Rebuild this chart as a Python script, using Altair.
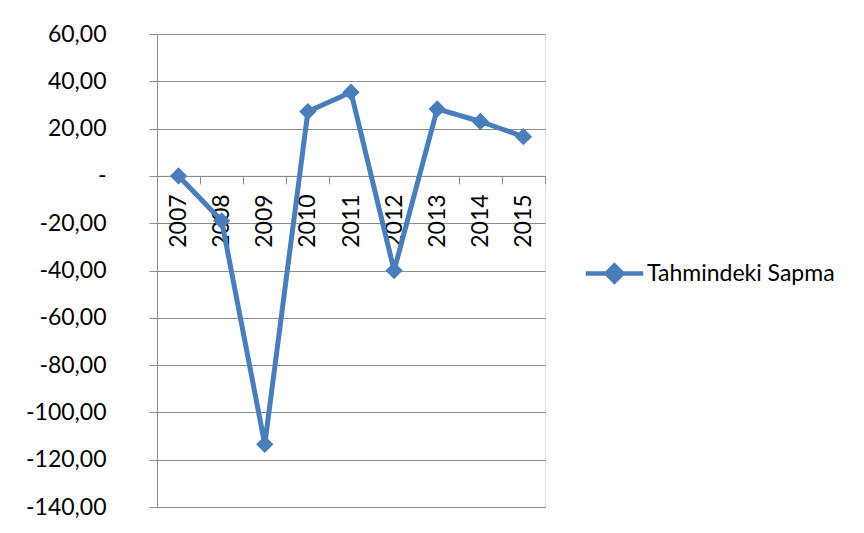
import altair as alt
import pandas as pd

years = ["2007", "2008", "2009", "2010", "2011", "2012", "2013", "2014", "2015"]
values = [0.0, -19.0, -113.5, 27.2, 35.4, -40.0, 28.3, 23.0, 16.6]
series_name = "Tahmindeki Sapma"
y_ticks = [-140, -120, -100, -80, -60, -40, -20, 0, 20, 40, 60]

df = pd.DataFrame({"year": years, "value": values, "series": [series_name] * len(years)})

BLUE = "#4A7EBB"
GRID = "#8C8C8C"
FONT = "Lato"
FS = 23
W, H = 388, 473
y_min, y_max = -140, 60
zero_from_bottom = H * (0 - y_min) / (y_max - y_min)

x_enc = alt.X(
    "year:O",
    sort=years,
    scale=alt.Scale(type="band", paddingInner=0, paddingOuter=0),
    axis=alt.Axis(
        title=None,
        labelAngle=-90,
        labelAlign="right",
        labelBaseline="middle",
        labelPadding=10,
        tickSize=8,
        tickBand="extent",
        offset=-zero_from_bottom,
        domainColor=GRID,
        tickColor=GRID,
        labelFont=FONT,
        labelFontSize=FS,
        labelColor="#000000",
        grid=False,
    ),
)

y_enc = alt.Y(
    "value:Q",
    scale=alt.Scale(domain=[y_min, y_max], nice=False, zero=False),
    axis=alt.Axis(
        title=None,
        values=y_ticks,
        labelExpr="datum.value == 0 ? '-' : replace(replace(format(datum.value, '.2f'), '.', ','), '\u2212', '-')",
        tickSize=8,
        labelPadding=43,
        domainColor=GRID,
        tickColor=GRID,
        gridColor=GRID,
        gridWidth=1,
        labelFont=FONT,
        labelFontSize=FS,
        labelColor="#000000",
    ),
)

color_enc = alt.Color(
    "series:N",
    scale=alt.Scale(range=[BLUE]),
    legend=alt.Legend(
        title=None,
        orient="none",
        legendX=446,
        legendY=228,
        padding=0,
        symbolType="M-3.6,0L3.6,0M0,-1L1,0L0,1L-1,0Z",
        symbolSize=256,
        symbolStrokeWidth=4.5,
        symbolStrokeColor=BLUE,
        symbolFillColor=BLUE,
        labelOffset=21,
        labelLimit=400,
        labelFont=FONT,
        labelFontSize=FS,
        labelColor="#000000",
    ),
)

base = alt.Chart(df).encode(x=x_enc, y=y_enc, color=color_enc)
line = base.mark_line(strokeWidth=5, strokeJoin="round")
pts = base.mark_point(shape="diamond", filled=True, size=300, opacity=1)

chart = (
    alt.layer(line, pts)
    .properties(
        width=W,
        height=H,
        autosize=alt.AutoSizeParams(type="none"),
        padding={"left": 149, "top": 26, "right": 311, "bottom": 18},
    )
    .configure_view(stroke=None)
    .configure(background="white")
)

chart.save("out.html", embed_options={"renderer": "svg", "actions": False})
